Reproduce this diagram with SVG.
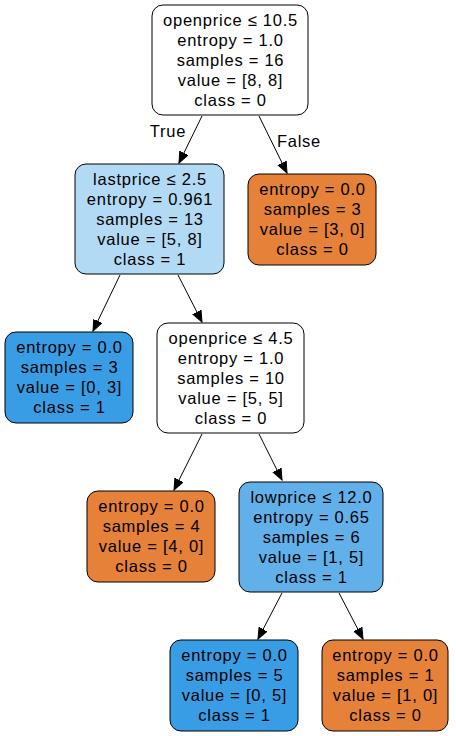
<svg xmlns="http://www.w3.org/2000/svg" width="456" height="736" viewBox="0 0 456 736">
<style>
.n{stroke:#000;stroke-width:1}
.t{font-family:"Liberation Sans",Arial,Helvetica,sans-serif;font-size:16.5px;letter-spacing:0.75px;fill:#000;text-anchor:middle}
.e{stroke:#000;stroke-width:1;fill:none;marker-end:url(#ah)}
</style>
<defs>
<marker id="ah" markerUnits="userSpaceOnUse" markerWidth="13" markerHeight="11" refX="11" refY="5" orient="auto" viewBox="0 0 13 11">
<path d="M0,0.5 L11,5 L0,9.5 Z" fill="#000" stroke="#000"/>
</marker>
</defs>
<rect width="456" height="736" fill="#fff"/>
<g id="edges">
<line class="e" x1="202" y1="116" x2="179" y2="163"/>
<line class="e" x1="259" y1="116" x2="287" y2="173"/>
<line class="e" x1="120" y1="275" x2="93" y2="331"/>
<line class="e" x1="178" y1="275" x2="202" y2="322"/>
<line class="e" x1="202" y1="434" x2="174" y2="490"/>
<line class="e" x1="259" y1="434" x2="282" y2="480"/>
<line class="e" x1="282" y1="593" x2="258" y2="639"/>
<line class="e" x1="339" y1="593" x2="363" y2="639"/>
<text class="t" x="168" y="137">True</text>
<text class="t" x="299" y="147">False</text>
</g>
<g id="node0">
<rect class="n" x="152" y="5" width="156" height="110" rx="11" fill="#ffffff"/>
<text class="t" x="230.5" y="26">openprice ≤ 10.5</text>
<text class="t" x="230.5" y="46">entropy = 1.0</text>
<text class="t" x="230.5" y="66">samples = 16</text>
<text class="t" x="230.5" y="86">value = [8, 8]</text>
<text class="t" x="230.5" y="106">class = 0</text>
</g>
<g id="node1">
<rect class="n" x="75" y="164" width="149" height="110" rx="11" fill="#b3daf5"/>
<text class="t" x="150" y="185">lastprice ≤ 2.5</text>
<text class="t" x="150" y="205">entropy = 0.961</text>
<text class="t" x="150" y="225">samples = 13</text>
<text class="t" x="150" y="245">value = [5, 8]</text>
<text class="t" x="150" y="265">class = 1</text>
</g>
<g id="node2">
<rect class="n" x="248" y="174" width="128" height="91" rx="11" fill="#e58139"/>
<text class="t" x="312.5" y="195">entropy = 0.0</text>
<text class="t" x="312.5" y="215">samples = 3</text>
<text class="t" x="312.5" y="235">value = [3, 0]</text>
<text class="t" x="312.5" y="255">class = 0</text>
</g>
<g id="node3">
<rect class="n" x="5" y="332" width="128" height="91" rx="11" fill="#399de5"/>
<text class="t" x="69.5" y="353">entropy = 0.0</text>
<text class="t" x="69.5" y="373">samples = 3</text>
<text class="t" x="69.5" y="393">value = [0, 3]</text>
<text class="t" x="69.5" y="413">class = 1</text>
</g>
<g id="node4">
<rect class="n" x="157" y="323" width="147" height="110" rx="11" fill="#ffffff"/>
<text class="t" x="231" y="344">openprice ≤ 4.5</text>
<text class="t" x="231" y="364">entropy = 1.0</text>
<text class="t" x="231" y="384">samples = 10</text>
<text class="t" x="231" y="404">value = [5, 5]</text>
<text class="t" x="231" y="424">class = 0</text>
</g>
<g id="node5">
<rect class="n" x="87" y="491" width="128" height="91" rx="11" fill="#e58139"/>
<text class="t" x="151.5" y="512">entropy = 0.0</text>
<text class="t" x="151.5" y="532">samples = 4</text>
<text class="t" x="151.5" y="552">value = [4, 0]</text>
<text class="t" x="151.5" y="572">class = 0</text>
</g>
<g id="node6">
<rect class="n" x="239" y="482" width="144" height="110" rx="11" fill="#61b0ea"/>
<text class="t" x="311.5" y="503">lowprice ≤ 12.0</text>
<text class="t" x="311.5" y="523">entropy = 0.65</text>
<text class="t" x="311.5" y="543">samples = 6</text>
<text class="t" x="311.5" y="563">value = [1, 5]</text>
<text class="t" x="311.5" y="583">class = 1</text>
</g>
<g id="node7">
<rect class="n" x="170" y="640" width="128" height="91" rx="11" fill="#399de5"/>
<text class="t" x="234.5" y="661">entropy = 0.0</text>
<text class="t" x="234.5" y="681">samples = 5</text>
<text class="t" x="234.5" y="701">value = [0, 5]</text>
<text class="t" x="234.5" y="721">class = 1</text>
</g>
<g id="node8">
<rect class="n" x="322" y="640" width="126" height="91" rx="11" fill="#e58139"/>
<text class="t" x="385.5" y="661">entropy = 0.0</text>
<text class="t" x="385.5" y="681">samples = 1</text>
<text class="t" x="385.5" y="701">value = [1, 0]</text>
<text class="t" x="385.5" y="721">class = 0</text>
</g>
</svg>
